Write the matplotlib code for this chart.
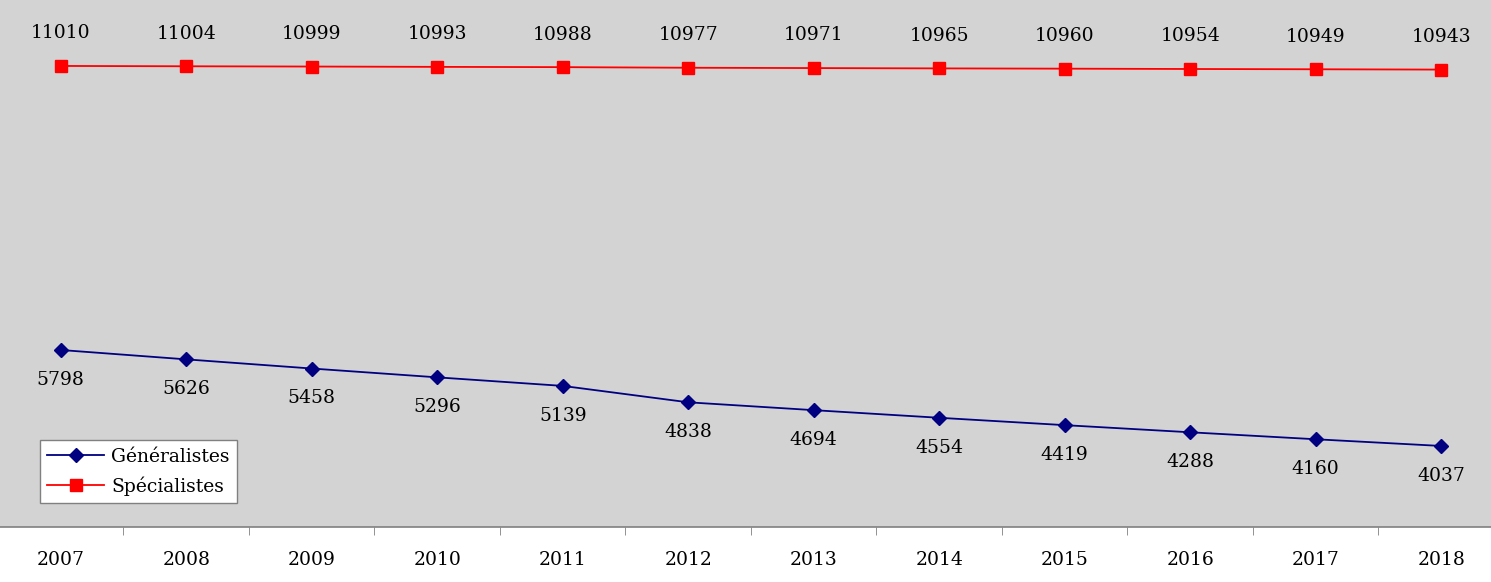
import numpy as np
import matplotlib.pyplot as plt

years = ["2007", "2008", "2009", "2010", "2011", "2012",
         "2013", "2014", "2015", "2016", "2017", "2018"]
generalistes = [5798, 5626, 5458, 5296, 5139, 4838, 4694, 4554, 4419, 4288, 4160, 4037]
specialistes = [11010, 11004, 10999, 10993, 10988, 10977, 10971, 10965, 10960, 10954, 10949, 10943]

plt.rcParams['font.family'] = ['DejaVu Serif']
fs = 13.5

fig = plt.figure(figsize=(14.91, 5.82), dpi=100)
ax = fig.add_axes([-2 / 1491, 1 - 527 / 582, 1506 / 1491, 527 / 582])
ax.set_facecolor('#d3d3d3')

x = np.arange(len(years))
ax.plot(x, generalistes, color='#000080', marker='D', markersize=7, lw=1.3,
        label='Généralistes')
ax.plot(x, specialistes, color='#ff0000', marker='s', markersize=8, lw=1.3,
        label='Spécialistes')

for xi, v in zip(x, specialistes):
    ax.annotate(str(v), (xi, v), xytext=(0, 17), textcoords='offset points',
                ha='center', va='bottom', fontsize=fs)
for xi, v in zip(x, generalistes):
    ax.annotate(str(v), (xi, v), xytext=(0, -15), textcoords='offset points',
                ha='center', va='top', fontsize=fs)

ax.set_xlim(-0.5, len(years) - 0.5)
ax.set_ylim(2550, 12220)
ax.set_yticks([])
ax.set_xticks(x)
ax.set_xticklabels(years, fontsize=fs)
ax.set_xticks(np.arange(0.5, len(years) - 1, 1), minor=True)
ax.tick_params(axis='x', which='major', length=0, pad=17)
ax.tick_params(axis='x', which='minor', length=6, color='#808080')
for s in ['top', 'left', 'right']:
    ax.spines[s].set_visible(False)
ax.spines['bottom'].set_color('#808080')
ax.spines['bottom'].set_linewidth(1.2)

leg = ax.legend(loc='lower left', bbox_to_anchor=(42 / 1506, (527 - 503) / 527),
                borderaxespad=0, fontsize=fs, fancybox=False, framealpha=1,
                edgecolor='#808080', handlelength=3.0, labelspacing=0.55,
                handletextpad=0.4)
leg.get_frame().set_linewidth(1)

fig.savefig('out.png', dpi=100)
